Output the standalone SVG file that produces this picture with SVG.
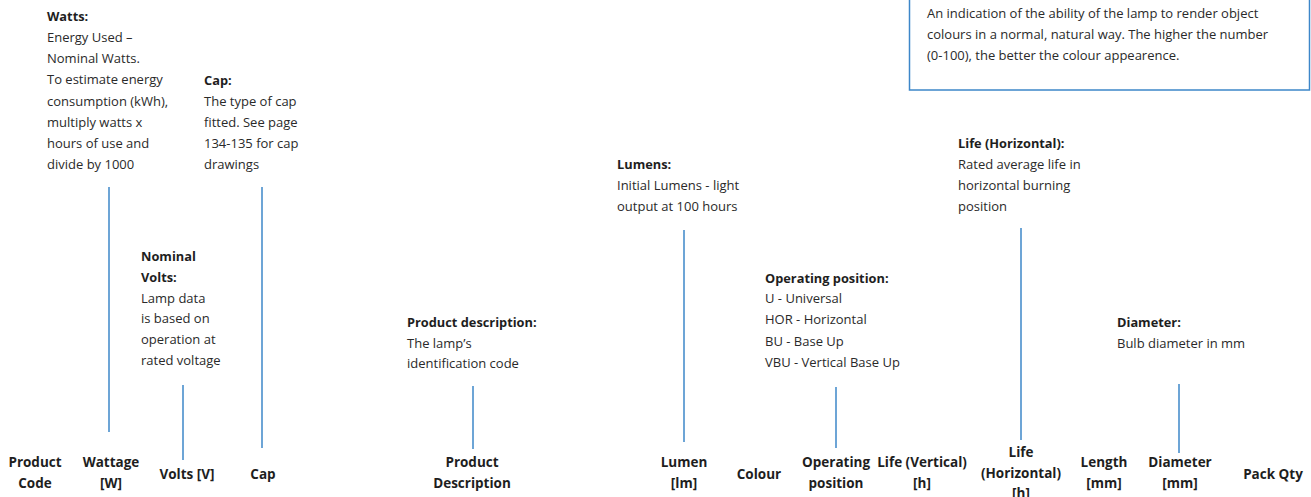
<svg xmlns="http://www.w3.org/2000/svg" width="1311" height="497" viewBox="0 0 1311 497">
<style>
text{font-family:"Open Sans","Noto Sans",sans-serif;fill:#1e1e1e}
.d{font-size:13px;fill:#2a2a2a}
.b{font-size:12.8px;font-weight:bold}
.h{font-size:13.5px;font-weight:bold;text-anchor:middle}
.c line{stroke:#3d87c9;stroke-width:1.5}
</style>
<rect width="1311" height="497" fill="#fff"/>
<g id="cri-box">
<rect x="909.5" y="-20" width="400" height="110" fill="none" stroke="#3d87c9" stroke-width="1.5"/>
<text class="d" x="927" y="18">An indication of the ability of the lamp to render object</text>
<text class="d" x="927" y="39">colours in a normal, natural way. The higher the number</text>
<text class="d" x="927" y="60">(0-100), the better the colour appearence.</text>
</g>
<g id="watts-note">
<text class="b" x="47" y="21">Watts:</text>
<text class="d" x="47" y="42">Energy Used –</text>
<text class="d" x="47" y="63">Nominal Watts.</text>
<text class="d" x="47" y="84">To estimate energy</text>
<text class="d" x="47" y="106">consumption (kWh),</text>
<text class="d" x="47" y="127">multiply watts x</text>
<text class="d" x="47" y="148">hours of use and</text>
<text class="d" x="47" y="169">divide by 1000</text>
</g>
<g id="cap-note">
<text class="b" x="204" y="85">Cap:</text>
<text class="d" x="204" y="106">The type of cap</text>
<text class="d" x="204" y="127">fitted. See page</text>
<text class="d" x="204" y="148">134-135 for cap</text>
<text class="d" x="204" y="169">drawings</text>
</g>
<g id="volts-note">
<text class="b" x="141" y="261">Nominal</text>
<text class="b" x="141" y="282">Volts:</text>
<text class="d" x="141" y="303">Lamp data</text>
<text class="d" x="141" y="323">is based on</text>
<text class="d" x="141" y="344">operation at</text>
<text class="d" x="141" y="365">rated voltage</text>
</g>
<g id="desc-note">
<text class="b" x="407" y="327">Product description:</text>
<text class="d" x="407" y="348">The lamp’s</text>
<text class="d" x="407" y="368">identification code</text>
</g>
<g id="lumens-note">
<text class="b" x="617" y="169">Lumens:</text>
<text class="d" x="617" y="190">Initial Lumens - light</text>
<text class="d" x="617" y="211">output at 100 hours</text>
</g>
<g id="oppos-note">
<text class="b" x="765" y="283">Operating position:</text>
<text class="d" x="765" y="303">U - Universal</text>
<text class="d" x="765" y="324">HOR - Horizontal</text>
<text class="d" x="765" y="346">BU - Base Up</text>
<text class="d" x="765" y="367">VBU - Vertical Base Up</text>
</g>
<g id="lifeh-note">
<text class="b" x="958" y="148">Life (Horizontal):</text>
<text class="d" x="958" y="169">Rated average life in</text>
<text class="d" x="958" y="190">horizontal burning</text>
<text class="d" x="958" y="211">position</text>
</g>
<g id="diam-note">
<text class="b" x="1117" y="327">Diameter:</text>
<text class="d" x="1117" y="348">Bulb diameter in mm</text>
</g>
<g id="connectors" class="c">
<line x1="109" y1="187" x2="109" y2="432"/>
<line x1="262" y1="187" x2="262" y2="448"/>
<line x1="183" y1="385" x2="183" y2="460"/>
<line x1="473" y1="386" x2="473" y2="449"/>
<line x1="684" y1="230" x2="684" y2="442"/>
<line x1="836" y1="387" x2="836" y2="448"/>
<line x1="1021" y1="228" x2="1021" y2="440"/>
<line x1="1179" y1="384" x2="1179" y2="453"/>
</g>
<g id="col-product-code"><text class="h" x="35" y="467">Product</text><text class="h" x="35" y="488">Code</text></g>
<g id="col-wattage"><text class="h" x="111" y="467">Wattage</text><text class="h" x="111" y="488">[W]</text></g>
<g id="col-volts"><text class="h" x="187" y="479">Volts [V]</text></g>
<g id="col-cap"><text class="h" x="263" y="479">Cap</text></g>
<g id="col-desc"><text class="h" x="472" y="467">Product</text><text class="h" x="472" y="488">Description</text></g>
<g id="col-lumen"><text class="h" x="684" y="467">Lumen</text><text class="h" x="684" y="488">[lm]</text></g>
<g id="col-colour"><text class="h" x="759" y="479">Colour</text></g>
<g id="col-oppos"><text class="h" x="836" y="467">Operating</text><text class="h" x="836" y="488">position</text></g>
<g id="col-lifev"><text class="h" x="922" y="467">Life (Vertical)</text><text class="h" x="922" y="488">[h]</text></g>
<g id="col-lifeh"><text class="h" x="1021" y="457">Life</text><text class="h" x="1021" y="478">(Horizontal)</text><text class="h" x="1021" y="498">[h]</text></g>
<g id="col-length"><text class="h" x="1104" y="467">Length</text><text class="h" x="1104" y="488">[mm]</text></g>
<g id="col-diameter"><text class="h" x="1180" y="467">Diameter</text><text class="h" x="1180" y="488">[mm]</text></g>
<g id="col-pack"><text class="h" x="1273" y="479">Pack Qty</text></g>
</svg>
